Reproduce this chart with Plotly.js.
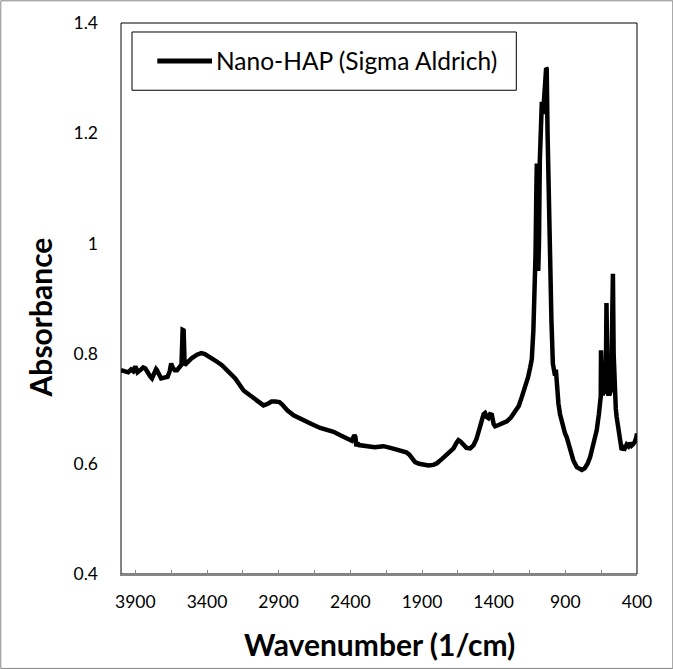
<!DOCTYPE html>
<html>
<head>
<meta charset="utf-8">
<script src="https://cdn.plot.ly/plotly-3.0.1.min.js"></script>
<style>html,body{margin:0;padding:0;background:#fff;}#chart{width:673px;height:669px;}</style>
</head>
<body>
<div id="chart"></div>
<script>
// Data (wavenumber in 1/cm, absorbance)
const seriesName = "Nano-HAP (Sigma Aldrich)";
const wavenumber = [
4000,3975,3950,3930,3915,3900,3885,3865,3845,3830,3810,3795,3784,3770,3755,3749,3735,3720,3705,3690,
3675,3660,3650,3640,3625,3609,3590,3578,3570,3563,3556,3540,3520,3505,3470,3440,3415,3389,3340,3296,
3240,3203,3145,3110,3060,3006,2975,2950,2924,2895,2877,2840,2796,2750,2703,2660,2610,2560,2517,2470,
2424,2390,2372,2365,2358,2350,2340,2285,2230,2200,2169,2120,2075,2040,2010,1990,1970,1948,1920,1880,
1855,1820,1796,1760,1720,1704,1680,1660,1646,1630,1611,1590,1564,1540,1520,1506,1490,1470,1460,1448,
1437,1425,1413,1400,1390,1370,1340,1308,1280,1250,1225,1204,1181,1160,1145,1134,1123,1115,1108,1102,
1099,1094,1089,1084,1078,1070,1064,1055,1048,1040,1034,1030,1024,1016,1006,997,987,980,972,966,
960,948,937,925,914,902,890,879,860,844,820,800,785,765,745,727,705,690,681,666,
653,651,645,640,633,625,618,613,607,600,590,580,572,568,563,556,548,542,530,518,
507,495,485,472,460,449,438,426,415,405,400
];
const absorbance = [
0.770,0.768,0.766,0.771,0.768,0.777,0.766,0.770,0.775,0.773,0.763,0.758,0.755,0.762,0.772,0.770,0.760,0.755,0.756,0.756,
0.758,0.768,0.782,0.775,0.770,0.770,0.775,0.780,0.843,0.842,0.779,0.784,0.789,0.792,0.798,0.801,0.799,0.794,0.787,0.779,
0.764,0.755,0.733,0.726,0.716,0.706,0.709,0.713,0.713,0.712,0.708,0.697,0.688,0.683,0.677,0.671,0.665,0.661,0.658,0.652,
0.646,0.642,0.652,0.649,0.632,0.638,0.634,0.631,0.630,0.631,0.632,0.629,0.626,0.623,0.621,0.617,0.609,0.603,0.600,0.597,
0.597,0.598,0.601,0.609,0.618,0.621,0.628,0.638,0.643,0.640,0.634,0.629,0.628,0.634,0.645,0.655,0.672,0.690,0.692,0.685,
0.683,0.690,0.689,0.672,0.668,0.670,0.674,0.677,0.684,0.695,0.705,0.721,0.738,0.757,0.775,0.790,0.842,0.900,0.980,1.100,
1.145,1.050,0.950,1.000,1.150,1.255,1.257,1.235,1.260,1.300,1.318,1.317,1.200,1.080,0.963,0.860,0.782,0.765,0.760,0.771,
0.741,0.709,0.690,0.675,0.664,0.655,0.648,0.637,0.618,0.606,0.594,0.590,0.589,0.592,0.600,0.612,0.632,0.648,0.661,0.690,
0.722,0.806,0.760,0.725,0.730,0.728,0.740,0.892,0.780,0.727,0.727,0.735,0.880,0.945,0.800,0.735,0.700,0.685,0.660,0.637,
0.625,0.630,0.628,0.635,0.632,0.638,0.633,0.636,0.640,0.648,0.655
];
const xTickVals = [3900,3400,2900,2400,1900,1400,900,400];
const yTickVals = [0.4,0.6,0.8,1,1.2,1.4];

const W = 673, H = 669;
const M = {l: 120.7, r: 36.3, t: 22.7, b: 95};
const PW = W - M.l - M.r, PH = H - M.t - M.b;
const px = x => (x - M.l) / PW;          // pixel -> paper x
const py = y => 1 - (y - M.t) / PH;      // pixel -> paper y

const FONT = "Lato, 'Open Sans', sans-serif";
const AXIS_GREY = "#868686";

const trace = {
  x: wavenumber, y: absorbance, type: "scatter", mode: "lines",
  name: seriesName, line: {color: "#000", width: 4.5}, showlegend: false
};

const layout = {
  width: W, height: H,
  margin: {l: M.l, r: M.r, t: M.t, b: M.b, pad: 0},
  paper_bgcolor: "#fff", plot_bgcolor: "#fff",
  font: {family: FONT, color: "#000", size: 17.5},
  showlegend: false,
  xaxis: {
    range: [4000, 400], tickvals: xTickVals, ticktext: xTickVals.map(String),
    ticks: "inside", ticklen: 4, tickwidth: 1, tickcolor: AXIS_GREY,
    minor: {ticks: "inside", ticklen: 4, tickwidth: 1, tickcolor: AXIS_GREY, dtick: 250, tick0: 400},
    showline: true, linecolor: AXIS_GREY, linewidth: 1.5,
    showgrid: false, zeroline: false, fixedrange: true,
    tickfont: {family: FONT, size: 17.5, color: "#000"}, ticklabelstandoff: 11
  },
  yaxis: {
    range: [0.4, 1.4], tickvals: yTickVals, ticktext: ["0.4","0.6","0.8","1","1.2","1.4"],
    ticks: "", showline: true, linecolor: AXIS_GREY, linewidth: 1.5,
    showgrid: false, zeroline: false, fixedrange: true,
    tickfont: {family: FONT, size: 17.5, color: "#000"}, ticklabelstandoff: 18
  },
  shapes: [
    // plot area border
    {type: "rect", xref: "paper", yref: "paper", x0: 0, x1: 1, y0: 0, y1: 1,
     line: {color: "#000", width: 1}, layer: "below"},
    // chart outer border
    {type: "rect", xref: "paper", yref: "paper", x0: px(0.5), x1: px(W - 0.5), y0: py(H - 0.5), y1: py(0.5),
     line: {color: AXIS_GREY, width: 1}},
    // legend box
    {type: "rect", xref: "paper", yref: "paper", x0: px(131.7), x1: px(516), y0: py(90), y1: py(31.7),
     line: {color: "#000", width: 1}, fillcolor: "#fff"},
    // legend sample line
    {type: "line", xref: "paper", yref: "paper", x0: px(157), x1: px(211.7), y0: py(60.7), y1: py(60.7),
     line: {color: "#000", width: 5}}
  ],
  annotations: [
    {text: seriesName, xref: "paper", yref: "paper", x: px(214), y: py(60.7),
     xanchor: "left", yanchor: "middle", showarrow: false,
     font: {family: FONT, size: 24.5, color: "#000"}},
    {text: "<b>Wavenumber (1/cm)</b>", xref: "paper", yref: "paper", x: 0.5, y: py(644),
     xanchor: "center", yanchor: "middle", showarrow: false,
     font: {family: FONT, size: 30, color: "#000"}},
    {text: "<b>Absorbance</b>", xref: "paper", yref: "paper", x: px(39.5), y: py(317.5),
     xanchor: "center", yanchor: "middle", textangle: -90, showarrow: false,
     font: {family: FONT, size: 30, color: "#000"}}
  ]
};

Plotly.newPlot("chart", [trace], layout, {staticPlot: true, displayModeBar: false});
</script>
</body>
</html>
